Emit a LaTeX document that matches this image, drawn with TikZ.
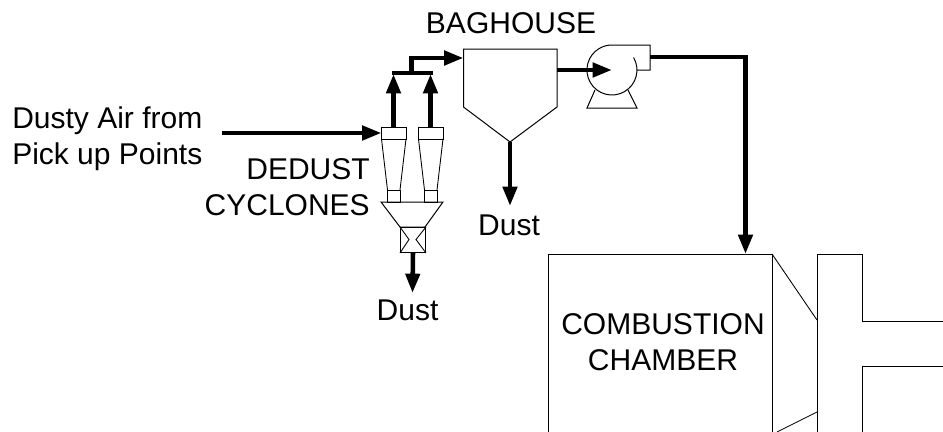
\documentclass[tikz,border=0pt]{standalone}
\usepackage{fontspec}
\setmainfont{Liberation Sans}
\usetikzlibrary{arrows.meta}
\tikzset{
  eq/.style={draw=black,line width=0.75pt,line join=miter},
  thin eq/.style={draw=black,line width=0.65pt},
  flow/.style={draw=black,line width=3.4pt,line join=miter,-{Triangle[length=14.5pt,width=10.5pt]}},
  pipe/.style={draw=black,line width=3pt,line join=miter},
  lbl/.style={font=\fontsize{22.5pt}{27pt}\selectfont,inner sep=0pt,align=center,text=black}
}
\begin{document}
\begin{tikzpicture}[x=0.75pt,y=-0.75pt]
\useasboundingbox (0,0) rectangle (943,432);
% cyclones
\coordinate (c1top) at (393.5,127);
\coordinate (c2top) at (430.5,127);
\coordinate (c1in) at (381.5,133);
\coordinate (src) at (222,133);
\foreach \x in {381.5,418.5}{
  \draw[eq] (\x,127) rectangle ++(24.5,12);
  \draw[thin eq] (\x,139) -- ++(6,51) (\x+24.5,139) -- ++(-6,51);
  \draw[eq] (\x+6,190) rectangle ++(12.5,12);
}
% hopper and valve
\draw[eq] (381,202) -- (443,202) -- (425,227) -- (400,227) -- cycle;
\node[eq,minimum width=18.75pt,minimum height=18.75pt,inner sep=0pt,anchor=north west] (valve) at (400,227) {};
\draw[thin eq] (valve.north west) -- (409,239.5) -- (valve.south west);
\draw[thin eq] (valve.north east) -- (416,239.5) -- (valve.south east);
\coordinate (d1) at (412.5,293);
\draw[flow] (valve.south) -- (d1);
% baghouse
\draw[eq] (463.5,49) -- (557,49) -- (557,107) -- (510,142) -- (463.5,107) -- cycle;
\coordinate (bagin) at (463.5,58);
\coordinate (bagbot) at (510,142);
\coordinate (bagout) at (557,70);
\coordinate (d2) at (510,206);
\draw[flow] (bagbot) -- (d2);
% piping cyclones to baghouse
\coordinate (hm) at (411.5,72.5);
\draw[flow] (c1top) -- (393.5,74);
\draw[flow] (c2top) -- (430.5,74);
\draw[pipe] (392,72.5) -- (432.5,72.5);
\draw[flow] (hm) -- (411.5,58) -- (bagin);
\draw[flow] (src) -- (c1in);
% fan
\coordinate (fanc) at (612,70);
\draw[eq] (633.6,57.5) arc[start angle=-30,end angle=270,radius=25] -- (650,45) -- (650,70) -- (637,70);
\draw[eq] (595,90) -- (587,108) -- (637,108) -- (628,90);
\coordinate (fanout) at (650,57);
\draw[flow] (bagout) -- (fanc);
% chamber
\coordinate (chtop) at (745.5,254);
\draw[flow] (fanout) -- (745.5,57) -- (chtop);
\draw[eq] (548.5,432) -- (548.5,254) -- (772,254) -- (772,432);
\draw[thin eq] (772,254) -- (817,320);
\draw[thin eq] (817,412) -- (777,432);
\draw[eq] (817,432) -- (817,254) -- (862,254) -- (862,321) -- (943,321);
\draw[eq] (943,366) -- (862,366) -- (862,432);
% labels
\node[lbl,align=left,anchor=north west] (t1) at (12,106) {Dusty Air from\\Pick up Points};
\node[lbl,align=right,anchor=north east] (t2) at (370,158.5) {DEDUST\\CYCLONES};
\node[lbl,anchor=base] (t3) at (511,33) {BAGHOUSE};
\node[lbl,anchor=base] (t4) at (509,235) {Dust};
\node[lbl,anchor=base] (t5) at (407.5,320) {Dust};
\node[lbl,anchor=north] (t6) at (663,313) {COMBUSTION\\CHAMBER};
\end{tikzpicture}
\end{document}
